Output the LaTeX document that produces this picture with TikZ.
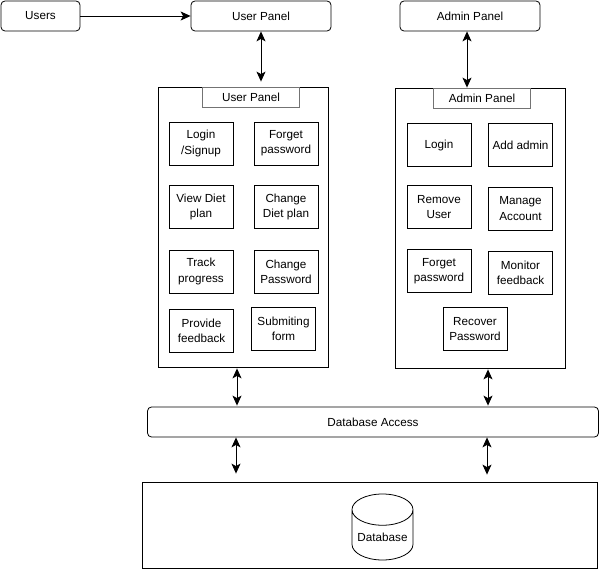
\documentclass[tikz,border=0pt]{standalone}
\usepackage{fontspec}
\setmainfont{Liberation Sans}
\usetikzlibrary{shapes.geometric,arrows.meta,positioning}

\begin{document}
\begin{tikzpicture}[
    x=1pt, y=-1pt,
    font=\fontsize{11.7}{15.2}\selectfont,
    rbox/.style={rectangle, rounded corners=4pt, draw, line width=0.8pt, minimum width=140pt, minimum height=30pt, align=center},
    item/.style={rectangle, draw, line width=0.8pt, minimum width=64pt, minimum height=43pt, inner sep=1pt, align=center},
    panel/.style={rectangle, draw, line width=0.8pt, minimum width=170pt, minimum height=280pt},
    tab/.style={rectangle, draw=gray!90!black, line width=0.9pt, minimum width=97pt, minimum height=20pt, inner sep=0pt},
    arrow/.style={-{Stealth[length=10pt, width=9pt, inset=2.5pt]}, line width=0.9pt},
    both/.style={{Stealth[length=10pt, width=9pt, inset=2.5pt]}-{Stealth[length=10pt, width=9pt, inset=2.5pt]}, line width=0.9pt}
]
    \useasboundingbox (0,0) rectangle (600,569);

    % Top row
    \node[rbox, minimum width=79pt] (users) at (40.5,16) {Users};
    \node[rbox] (userpanel) at (261,16) {User Panel};
    \node[rbox] (adminpanel) at (470,16) {Admin Panel};

    % User panel container
    \node[panel] (ucont) at (243,227) {};
    \node[tab, below=0pt of ucont.north, xshift=8pt] (utab) {User Panel};
    \node[item] (ulogin) at (201,143.5) {Login\\/Signup};
    \node[item] (uforget) at (286,143.5) {Forget\\password};
    \node[item] (viewdiet) at (201,207) {View Diet\\plan};
    \node[item] (changediet) at (286,207) {Change\\Diet plan};
    \node[item] (track) at (201,271.5) {Track\\progress};
    \node[item] (changepw) at (286,271.5) {Change\\Password};
    \node[item] (feedback) at (201.5,331) {Provide\\feedback};
    \node[item] (submit) at (283.5,328.5) {Submiting\\form};

    % Admin panel container
    \node[panel] (acont) at (480,228) {};
    \node[tab, below=0pt of acont.north, xshift=2pt] (atab) {Admin Panel};
    \node[item] (alogin) at (439,145) {Login};
    \node[item] (addadmin) at (520.5,145) {Add admin};
    \node[item] (remove) at (439,207) {Remove\\User};
    \node[item] (manage) at (520.5,208.5) {Manage\\Account};
    \node[item] (aforget) at (439,271) {Forget\\password};
    \node[item] (monitor) at (520.5,272.5) {Monitor\\feedback};
    \node[item] (recover) at (475,329) {Recover\\Password};

    % Database
    \node[rbox, minimum width=451pt] (dbaccess) at (373,422) {Database Access};
    \node[rectangle, draw, line width=0.8pt, minimum width=455pt, minimum height=86pt] (dbbox) at (369.5,525) {};
    \node[cylinder, shape border rotate=90, aspect=0.6, draw, line width=0.8pt, minimum width=61pt, minimum height=66pt, inner sep=1pt] (db) at (382.5,537) {Database};

    % Arrows
    \draw[arrow] (users) -- (userpanel);
    \draw[both, shorten >=5pt] (userpanel) -- (userpanel |- ucont.north);
    \draw[both] ([xshift=-3pt]adminpanel.south) -- ([xshift=-3pt]adminpanel.south |- acont.north);
    \draw[both, shorten <=1pt, shorten >=1pt] ([xshift=-6pt]ucont.south) -- ([xshift=-6pt]ucont.south |- dbaccess.north);
    \draw[both, shorten <=1pt, shorten >=1pt] ([xshift=8pt]acont.south) -- ([xshift=8pt]acont.south |- dbaccess.north);
    \draw[both, shorten >=8pt] ([xshift=-7pt]ucont.south |- dbaccess.south) -- ([xshift=-7pt]ucont.south |- dbbox.north);
    \draw[both, shorten >=7pt] ([xshift=7pt]acont.south |- dbaccess.south) -- ([xshift=7pt]acont.south |- dbbox.north);

\end{tikzpicture}
\end{document}
